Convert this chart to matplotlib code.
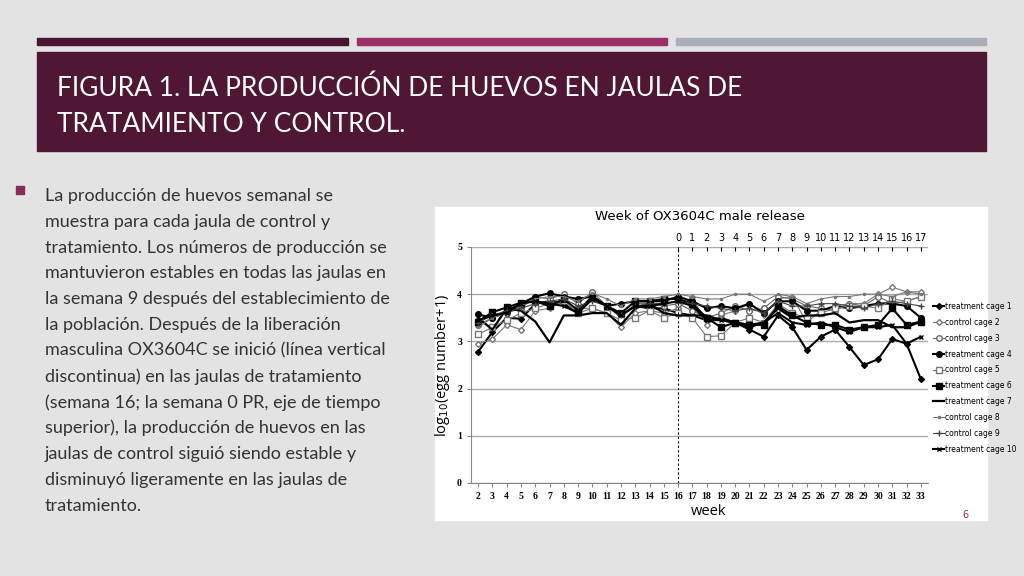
import matplotlib.pyplot as plt
from matplotlib.patches import Rectangle

weeks = list(range(2, 34))
release_weeks = list(range(0, 18))

# log10(egg number + 1) per cage, weeks 2..33
treatment_cage_1 = [2.78, 3.2, 3.5, 3.48, 3.8, 3.85, 3.8, 3.6, 3.95, 3.75, 3.55, 3.75, 3.7, 3.7, 3.6, 3.55, 3.45, 3.5, 3.4, 3.25, 3.1, 3.55, 3.3, 2.82, 3.1, 3.25, 2.88, 2.5, 2.62, 3.05, 2.95, 2.2]
control_cage_2 = [2.95, 3.05, 3.35, 3.25, 3.65, 3.7, 3.85, 3.7, 3.7, 3.6, 3.3, 3.6, 3.65, 3.6, 3.7, 3.95, 3.35, 3.55, 3.65, 3.8, 3.55, 3.9, 3.95, 3.4, 3.65, 3.75, 3.8, 3.8, 4.0, 4.15, 4.05, 4.05]
control_cage_3 = [3.35, 3.5, 3.6, 3.7, 3.95, 3.9, 4.0, 3.8, 4.05, 3.75, 3.5, 3.8, 3.8, 3.75, 3.8, 3.65, 3.5, 3.6, 3.75, 3.65, 3.7, 3.95, 3.9, 3.75, 3.7, 3.65, 3.8, 3.75, 3.95, 3.8, 3.85, 3.95]
treatment_cage_4 = [3.57, 3.5, 3.65, 3.8, 3.95, 4.02, 3.95, 3.9, 3.95, 3.75, 3.8, 3.85, 3.85, 3.85, 3.95, 3.85, 3.7, 3.75, 3.7, 3.8, 3.6, 3.85, 3.85, 3.65, 3.65, 3.75, 3.7, 3.75, 3.8, 3.8, 3.75, 3.5]
control_cage_5 = [3.15, 3.3, 3.45, 3.6, 3.7, 3.8, 3.85, 3.6, 3.7, 3.6, 3.45, 3.5, 3.65, 3.5, 3.6, 3.5, 3.1, 3.12, 3.4, 3.5, 3.4, 3.8, 3.6, 3.5, 3.6, 3.7, 3.75, 3.75, 3.7, 3.9, 3.85, 3.95]
treatment_cage_6 = [3.42, 3.62, 3.72, 3.82, 3.85, 3.75, 3.9, 3.65, 3.95, 3.75, 3.6, 3.85, 3.85, 3.9, 3.9, 3.8, 3.5, 3.3, 3.4, 3.35, 3.35, 3.75, 3.55, 3.4, 3.35, 3.35, 3.25, 3.3, 3.35, 3.7, 3.35, 3.42]
treatment_cage_7 = [3.5, 3.25, 3.7, 3.65, 3.42, 2.98, 3.55, 3.55, 3.6, 3.6, 3.35, 3.7, 3.8, 3.6, 3.55, 3.55, 3.55, 3.45, 3.4, 3.3, 3.4, 3.7, 3.5, 3.55, 3.55, 3.6, 3.4, 3.45, 3.45, 3.3, 3.3, 3.42]
control_cage_8 = [3.3, 3.5, 3.6, 3.75, 3.9, 3.95, 3.95, 3.85, 4.02, 3.9, 3.75, 3.9, 3.9, 3.95, 4.0, 3.95, 3.9, 3.9, 4.0, 4.0, 3.85, 4.0, 3.95, 3.8, 3.9, 3.95, 3.95, 4.0, 4.0, 3.95, 4.05, 4.0]
control_cage_9 = [3.4, 3.55, 3.65, 3.7, 3.8, 3.85, 3.9, 3.75, 3.85, 3.75, 3.55, 3.75, 3.8, 3.8, 3.85, 3.8, 3.75, 3.7, 3.65, 3.7, 3.6, 3.85, 3.75, 3.75, 3.8, 3.8, 3.75, 3.7, 3.8, 3.85, 3.8, 3.75]
treatment_cage_10 = [3.45, 3.55, 3.6, 3.8, 3.85, 3.8, 3.75, 3.6, 3.9, 3.75, 3.55, 3.75, 3.75, 3.8, 3.85, 3.75, 3.45, 3.45, 3.4, 3.35, 3.4, 3.6, 3.4, 3.35, 3.4, 3.3, 3.2, 3.3, 3.3, 3.35, 2.95, 3.1]

series = [
    ('treatment cage 1', treatment_cage_1, dict(marker='D', ms=3, color='black', lw=1.5)),
    ('control cage 2', control_cage_2, dict(marker='D', ms=3, mfc='white', color='#777777', lw=0.8)),
    ('control cage 3', control_cage_3, dict(marker='o', ms=4, mfc='white', color='#666666', lw=0.8)),
    ('treatment cage 4', treatment_cage_4, dict(marker='o', ms=4, color='black', lw=1.5)),
    ('control cage 5', control_cage_5, dict(marker='s', ms=4, mfc='white', color='#777777', lw=0.8)),
    ('treatment cage 6', treatment_cage_6, dict(marker='s', ms=4, color='black', lw=1.5)),
    ('treatment cage 7', treatment_cage_7, dict(marker='', color='black', lw=1.6)),
    ('control cage 8', control_cage_8, dict(marker='.', ms=3, color='#777777', lw=0.8)),
    ('control cage 9', control_cage_9, dict(marker='+', ms=4, color='#444444', lw=0.8)),
    ('treatment cage 10', treatment_cage_10, dict(marker='x', ms=3, color='black', lw=1.5)),
]

fig = plt.figure(figsize=(10.24, 5.76), dpi=100)
fig.patch.set_facecolor('#e3e3e3')

def box(x, y, w, h, c):
    fig.patches.append(Rectangle((x / 1024, 1 - (y + h) / 576), w / 1024, h / 576,
                                 transform=fig.transFigure, color=c, zorder=-5))

box(37, 38, 311, 7, '#4a1530')
box(357, 38, 310, 7, '#9c2f67')
box(676, 38, 310, 7, '#a9aeb8')
box(37, 52, 949, 99, '#4f1734')
box(435, 207, 552, 313, 'white')

fig.text(57 / 1024, 1 - 88 / 576, 'FIGURA 1. LA PRODUCCIÓN DE HUEVOS EN JAULAS DE',
         color='white', fontsize=19, family='Lato', va='center')
fig.text(57 / 1024, 1 - 125 / 576, 'TRATAMIENTO Y CONTROL.',
         color='white', fontsize=19, family='Lato', va='center')

body = ['La producción de huevos semanal se', 'muestra para cada jaula de control y',
        'tratamiento. Los números de producción se', 'mantuvieron estables en todas las jaulas en',
        'la semana 9 después del establecimiento de', 'la población. Después de la liberación',
        'masculina OX3604C se inició (línea vertical', 'discontinua) en las jaulas de tratamiento',
        '(semana 16; la semana 0 PR, eje de tiempo', 'superior), la producción de huevos en las',
        'jaulas de control siguió siendo estable y', 'disminuyó ligeramente en las jaulas de',
        'tratamiento.']
for i, line in enumerate(body):
    fig.text(45 / 1024, 1 - (196 + i * 25.8) / 576, line, fontsize=13, family='Lato',
             color='#333333', va='center')
box(16, 186, 8, 8, '#8a2a58')

ax = fig.add_axes([471 / 1024, 93 / 576, 457 / 1024, 236 / 576])
ax.set_zorder(2)
ax.patch.set_alpha(0)
for name, vals, st in series:
    ax.plot(weeks, vals, label=name, **st)
ax.axvline(16, color='black', ls=(0, (2, 2)), lw=0.8)
ax.set_xlim(1.5, 33.5)
ax.set_ylim(0, 5)
ax.set_xticks(weeks)
ax.set_yticks(range(6))
ax.grid(axis='y', color='#aaaaaa', lw=1)
for s in ['top', 'right']:
    ax.spines[s].set_visible(False)
ax.spines['left'].set_color('#888888')
ax.spines['bottom'].set_color('#888888')
ax.tick_params(labelsize=7, length=3, color='#888888')
for lbl in ax.get_xticklabels() + ax.get_yticklabels():
    lbl.set_family('Liberation Serif')
    lbl.set_fontweight('bold')
ax.set_ylabel('log$_{10}$(egg number+1)', fontsize=10.5, family='Open Sans')
ax.set_xlabel('week', fontsize=10.5, family='Open Sans', labelpad=2)
ax.xaxis.set_label_coords(0.52, -0.09)

top = ax.twiny()
top.set_zorder(3)
top.set_xlim(ax.get_xlim())
top.set_xticks([w + 16 for w in release_weeks])
top.set_xticklabels([str(w) for w in release_weeks])
top.tick_params(labelsize=7, length=3, direction='in', pad=3)
for s in ['top', 'right', 'left', 'bottom']:
    top.spines[s].set_visible(False)
top.set_xlabel('Week of OX3604C male release', fontsize=9.5, labelpad=9)

ax.legend(loc='upper left', bbox_to_anchor=(1.0, 0.79), frameon=False, fontsize=5.5,
          handlelength=1.4, labelspacing=0.9, handletextpad=0.1, borderaxespad=0.3)

fig.text(965 / 1024, 1 - 515 / 576, '6', fontsize=7, color='#9c2f67', ha='center', va='center')

fig.savefig('out.png', dpi=100, facecolor=fig.get_facecolor())
